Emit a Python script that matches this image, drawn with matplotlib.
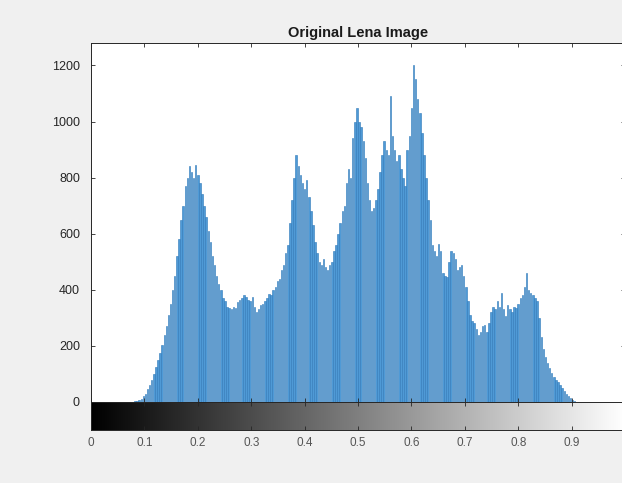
import numpy as np
import matplotlib
matplotlib.use("Agg")
import matplotlib.pyplot as plt

plt.rcParams['font.family'] = ['Liberation Sans', 'DejaVu Sans']

title = "Original Lena Image"
# bin index (0..255) -> count
bins = list(range(256))
counts = (
    [0] * 21 +
    [2, 5, 8, 12, 20, 30, 45, 60, 80, 100,            # 21-30
     125, 150, 175, 205, 240, 270, 310, 350, 400, 450,  # 31-40
     520, 580, 650, 700, 770, 800, 840, 820, 800, 845,  # 41-50
     810, 780, 740, 700, 660, 610, 570, 520, 490, 450,  # 51-60
     420, 400, 370, 360, 340, 335, 330, 340, 335, 355,  # 61-70
     365, 370, 380, 375, 365, 360, 375, 340, 320, 330,  # 71-80
     345, 350, 360, 370, 385, 380, 400, 410, 430, 440,  # 81-90
     470, 490, 530, 560, 640, 720, 800, 880, 840, 810,  # 91-100
     780, 760, 790, 730, 680, 630, 570, 530, 500, 490,  # 101-110
     510, 480, 470, 490, 500, 540, 560, 600, 640, 680,  # 111-120
     700, 780, 830, 800, 940, 1000, 1050, 1000, 980, 930,  # 121-130
     870, 780, 720, 680, 690, 720, 760, 820, 880, 930,  # 131-140
     900, 880, 1090, 950, 900, 860, 880, 830, 800, 770,  # 141-150
     900, 950, 1050, 1200, 1150, 1080, 1030, 960, 880, 800,  # 151-160
     720, 650, 560, 540, 520, 565, 540, 460, 450, 445,  # 161-170
     500, 540, 530, 510, 470, 480, 490, 450, 410, 360,  # 171-180
     310, 290, 280, 260, 240, 250, 270, 275, 250, 280,  # 181-190
     320, 340, 330, 360, 340, 390, 330, 305, 345, 330,  # 191-200
     320, 340, 335, 350, 370, 380, 410, 460, 400, 390,  # 201-210
     380, 370, 360, 300, 230, 190, 160, 140, 120, 105,  # 211-220
     90, 80, 70, 60, 50, 40, 30, 20, 15, 8,             # 221-230
     4] +
    [0] * 24
)
xticks = [0, 0.1, 0.2, 0.3, 0.4, 0.5, 0.6, 0.7, 0.8, 0.9, 1.0]
xticklabels = ['0', '0.1', '0.2', '0.3', '0.4', '0.5', '0.6', '0.7', '0.8', '0.9', '']
yticks = [0, 200, 400, 600, 800, 1000, 1200]

W, H = 622, 483
fig = plt.figure(figsize=(W / 100, H / 100), dpi=100, facecolor='#f0f0f0')

left = 91 / W
right = 625 / W
ax = fig.add_axes([left, (H - 402) / H, right - left, (402 - 43) / H])
cax = fig.add_axes([left, (H - 430) / H, right - left, 28 / H])

x = np.array(bins) / 255.0
ax.bar(x, counts, width=0.7 / 255, color='#4f9ad6', edgecolor='#2f78b8',
       linewidth=0.4, align='center')
ax.set_xlim(0, 1)
ax.set_ylim(0, 1280)
ax.set_yticks(yticks)
ax.set_yticklabels([str(v) for v in yticks])
ax.set_xticks(xticks)
ax.tick_params(axis='x', labelbottom=False, direction='in', top=True, length=3,
               color='#262626', width=0.6)
ax.tick_params(axis='y', direction='in', right=True, length=3, labelsize=9,
               labelcolor='#262626', color='#262626', width=0.6, pad=8)
for s in ax.spines.values():
    s.set_color('#262626')
    s.set_linewidth(0.7)
ax.set_title(title, fontsize=10.5, fontweight='bold', color='#1a1a1a', pad=4)

grad = np.linspace(0, 1, 256).reshape(1, -1)
cax.imshow(grad, cmap='gray', aspect='auto', extent=[0, 1, 0, 1], vmin=0, vmax=1)
cax.set_xlim(0, 1)
cax.set_ylim(0, 1)
cax.set_yticks([])
cax.set_xticks(xticks)
cax.set_xticklabels(xticklabels)
cax.tick_params(axis='x', direction='in', top=True, length=3, labelsize=8.5,
                labelcolor='#555555', color='#262626', width=0.6, pad=5)
for s in cax.spines.values():
    s.set_color('#262626')
    s.set_linewidth(0.7)

fig.savefig('out.png', dpi=100, facecolor=fig.get_facecolor())
